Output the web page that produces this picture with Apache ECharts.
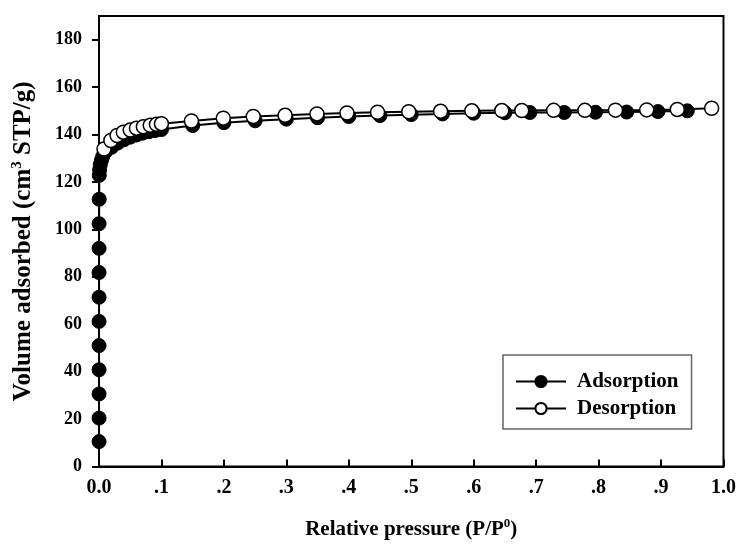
<!DOCTYPE html>
<html><head><meta charset="utf-8">
<script src="https://cdn.jsdelivr.net/npm/echarts@6/dist/echarts.min.js"></script>
<style>html,body{margin:0;padding:0;background:#fff}#c{width:739px;height:545px}</style>
</head><body><div id="c"></div>
<script>
var adsP = [0.0001,0.0001,0.0001,0.0001,0.0001,0.0001,0.0001,0.0001,0.0001,0.0002,0.0003,0.0005,0.001,0.002,0.004,0.006,0.01,0.02,0.03,0.04,0.05,0.06,0.07,0.08,0.09,0.1,0.15,0.2,0.25,0.3,0.35,0.4,0.45,0.5,0.55,0.6,0.65,0.69,0.745,0.795,0.845,0.895,0.942];
var adsV = [10.5,20.4,30.6,40.8,51.0,61.2,71.4,81.8,92.0,102.4,112.7,122.8,125.2,127.3,129.2,130.8,132.6,134.6,136.4,137.8,138.9,139.8,140.6,141.2,141.7,142.1,143.8,145.0,145.8,146.5,147.1,147.6,148.0,148.4,148.7,149.0,149.2,149.3,149.3,149.4,149.5,149.7,150.0];
var desP = [0.008,0.019,0.029,0.039,0.05,0.06,0.071,0.082,0.092,0.1,0.148,0.199,0.247,0.298,0.349,0.397,0.446,0.496,0.547,0.597,0.645,0.677,0.728,0.778,0.827,0.877,0.926,0.981];
var desV = [133.9,137.5,139.6,141.0,141.9,142.7,143.3,143.9,144.3,144.6,145.7,146.9,147.6,148.1,148.7,149.1,149.4,149.6,149.8,150.0,150.1,150.1,150.2,150.2,150.3,150.4,150.6,151.1];
var xTicks = ['0.0','.1','.2','.3','.4','.5','.6','.7','.8','.9','1.0'];
var yTicks = [0,20,40,60,80,100,120,140,160,180];

function pairs(p, v){ return p.map(function(x,i){ return [x, v[i]]; }); }
var FONT = 'Liberation Serif';
var chart = echarts.init(document.getElementById('c'));
chart.setOption({
  animation: false,
  backgroundColor: '#fff',
  grid: {left: 99, right: 15, top: 16, bottom: 76, show: true, borderColor: '#000', borderWidth: 2, backgroundColor: 'transparent'},
  legend: {
    orient: 'vertical', left: 503, top: 355,
    padding: [16, 13, 10, 12], itemGap: 6,
    borderColor: '#666', borderWidth: 1.5,
    itemWidth: 50, itemHeight: 14,
    textStyle: {fontFamily: FONT, fontWeight: 'bold', fontSize: 21, color: '#000', padding: [0,0,0,6]},
    data: ['Adsorption', 'Desorption']
  },
  xAxis: {
    type: 'value', min: 0, max: 1, interval: 0.1,
    name: 'Relative pressure (P/P{sup|0})', nameLocation: 'middle', nameGap: 51,
    nameTextStyle: {fontFamily: FONT, fontWeight: 'bold', fontSize: 21, color: '#000',
      rich: {sup: {fontFamily: FONT, fontWeight: 'bold', fontSize: 13, color: '#000', padding: [0,0,11,0]}}},
    axisLine: {lineStyle: {color: '#000', width: 2}},
    axisTick: {inside: true, length: 7, lineStyle: {color: '#000', width: 2}},
    axisLabel: {fontFamily: FONT, fontWeight: 'bold', fontSize: 20, color: '#000', margin: 11,
      formatter: function(v){ return xTicks[Math.round(v*10)]; }},
    splitLine: {show: false}
  },
  yAxis: {
    type: 'value', min: 0, max: 190,
    name: 'Volume adsorbed (cm{sup|3} STP/g)', nameLocation: 'middle', nameGap: 62,
    nameTextStyle: {fontFamily: FONT, fontWeight: 'bold', fontSize: 25, color: '#000',
      rich: {sup: {fontFamily: FONT, fontWeight: 'bold', fontSize: 15, color: '#000', padding: [0,0,12,0]}}},
    axisLine: {lineStyle: {color: '#000', width: 2}},
    axisTick: {inside: false, length: 7, lineStyle: {color: '#000', width: 2}, customValues: yTicks},
    axisLabel: {fontFamily: FONT, fontWeight: 'bold', fontSize: 18, color: '#000', margin: 17, customValues: yTicks},
    splitLine: {show: false}
  },
  series: [
    {name: 'Adsorption', type: 'line', data: pairs(adsP, adsV), symbol: 'circle', symbolSize: 14,
     lineStyle: {color: '#000', width: 2}, itemStyle: {color: '#000', borderColor: '#000', borderWidth: 1}, z: 2},
    {name: 'Desorption', type: 'line', data: pairs(desP, desV), symbol: 'circle', symbolSize: 14,
     lineStyle: {color: '#000', width: 2}, itemStyle: {color: '#fff', borderColor: '#000', borderWidth: 1.5}, z: 3}
  ]
});
</script></body></html>
